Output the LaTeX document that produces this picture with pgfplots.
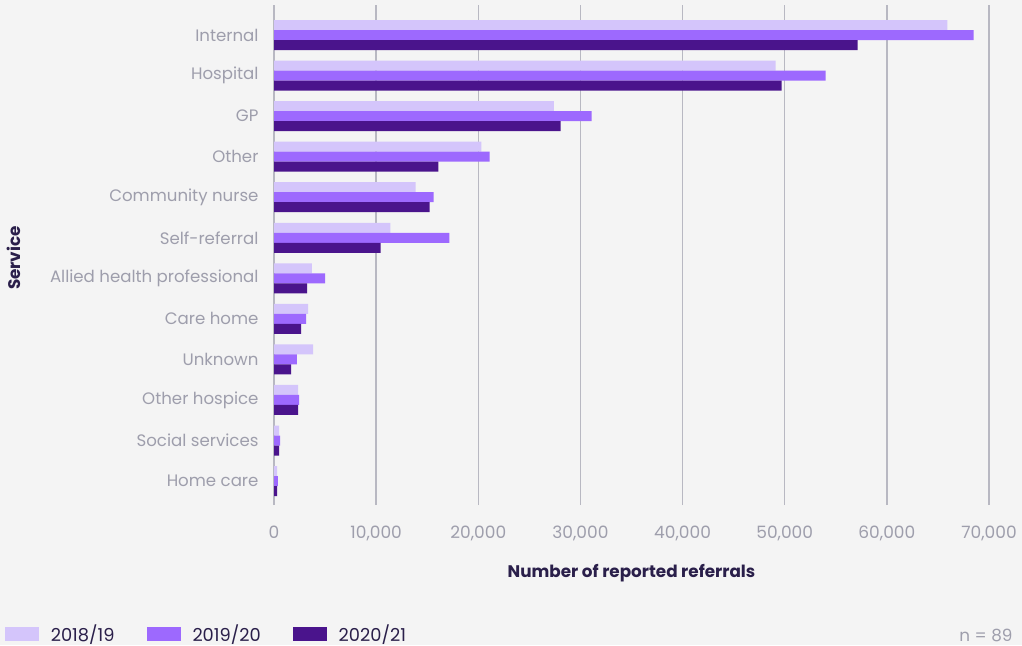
\documentclass[border=0pt]{standalone}
\usepackage{fontspec}
\setmainfont{Poppins}
\usepackage{pgfplots}
\pgfplotsset{compat=1.18}
\definecolor{bg}{HTML}{F4F4F4}
\definecolor{cA}{HTML}{D4C5FB}
\definecolor{cB}{HTML}{9D69FE}
\definecolor{cC}{HTML}{4A148C}
\definecolor{gridc}{HTML}{B8B8C2}
\definecolor{lab}{HTML}{9E9EAC}
\definecolor{dark}{HTML}{2A1F4A}
\begin{document}
\begin{tikzpicture}[x=1pt,y=1pt]
\fill[bg] (0,0) rectangle (1022,-645);
\begin{axis}[
  at={(274pt,-505pt)}, anchor=south west,
  scale only axis, width=715pt, height=500pt,
  xbar, bar width=10pt,
  xmin=0, xmax=70000, ymin=-0.59, ymax=11.74,
  xtick={0,10000,...,70000},
  ytick={0,...,11},
  yticklabels={Home care,Social services,Other hospice,Unknown,Care home,Allied health professional,Self-referral,Community nurse,Other,GP,Hospital,Internal},
  axis line style={draw=none},
  major tick length=0pt,
  xmajorgrids, grid style={gridc, line width=1.5pt},
  /pgf/number format/.cd, 1000 sep={,}, assume math mode=true, /pgfplots/.cd,
  scaled x ticks=false,
  xticklabel style={font=\fontsize{17}{20}\selectfont, text=lab, yshift=-17pt},
  yticklabel style={font=\fontsize{16.6}{20}\selectfont, text=lab, xshift=-12pt},
  xlabel={\bfseries Number of reported referrals},
  xlabel style={font=\fontsize{16.8}{20}\selectfont, text=dark, yshift=-17pt},
  legend style={at={(axis description cs:-0.381,-0.258)}, anchor=west, draw=none, fill=none, font=\fontsize{17.8}{20}\selectfont, text=dark, legend columns=3, /tikz/every odd column/.append style={column sep=10pt}, /tikz/every even column/.append style={column sep=30pt}},
  legend image code/.code={\path[#1] (0pt,-7pt) rectangle (34pt,7pt);},
]
\addplot[fill=cA, draw=none, bar shift=10pt] coordinates {
 (300,0) (500,1) (2350,2) (3820,3) (3330,4) (3720,5) (11390,6) (13860,7) (20310,8) (27390,9) (49120,10) (65920,11)};
\addplot[fill=cB, draw=none, bar shift=0pt] coordinates {
 (390,0) (590,1) (2450,2) (2250,3) (3140,4) (5000,5) (17180,6) (15620,7) (21120,8) (31090,9) (54010,10) (68490,11)};
\addplot[fill=cC, draw=none, bar shift=-10pt] coordinates {
 (300,0) (490,1) (2350,2) (1670,3) (2650,4) (3240,5) (10440,6) (15240,7) (16090,8) (28050,9) (49690,10) (57140,11)};
\legend{2018/19,2019/20,2020/21}
\end{axis}
\node[rotate=90, font=\fontsize{16.8}{20}\selectfont\bfseries, text=dark] at (14,-258) {Service};
\node[anchor=east, font=\fontsize{16.8}{20}\selectfont, text=lab] at (1016,-635) {n = 89};
\pgfresetboundingbox
\path[use as bounding box] (0,0) rectangle (1022,-645);
\end{tikzpicture}
\end{document}
